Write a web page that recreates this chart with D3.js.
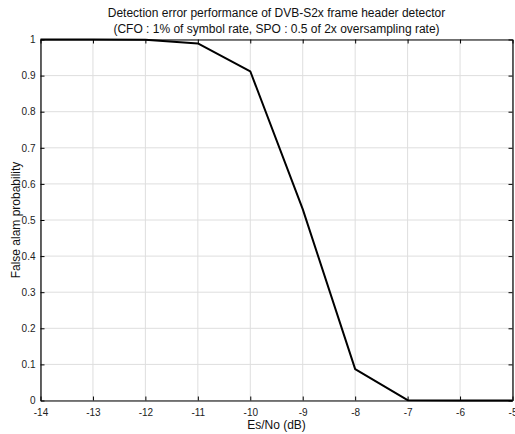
<!DOCTYPE html>
<html>
<head>
<meta charset="utf-8">
<script src="https://cdn.jsdelivr.net/npm/d3@7.9.0/dist/d3.min.js"></script>
<style>
  html, body { margin: 0; padding: 0; background: #fff; }
  svg { display: block; font-family: "Liberation Sans", Arial, sans-serif; }
</style>
</head>
<body>
<svg id="chart" width="515" height="434"></svg>
<script>
const esNo = [-14, -13, -12, -11, -10, -9, -8, -7, -6, -5];
const falseAlarm = [1, 1, 0.999, 0.989, 0.912, 0.53, 0.087, 0.001, 0, 0];
const xTicks = [-14, -13, -12, -11, -10, -9, -8, -7, -6, -5];
const yTicks = [0, 0.1, 0.2, 0.3, 0.4, 0.5, 0.6, 0.7, 0.8, 0.9, 1];
const titleLines = [
  'Detection error performance of DVB-S2x frame header detector',
  '(CFO : 1% of symbol rate, SPO : 0.5 of 2x oversampling rate)'
];

const margin = { top: 39.5, right: 2.5, bottom: 33.5, left: 40.5 };
const width = 515, height = 434;
const svg = d3.select('#chart');

const x = d3.scaleLinear().domain([-14, -5]).range([margin.left, width - margin.right]);
const y = d3.scaleLinear().domain([0, 1]).range([height - margin.bottom, margin.top]);

// grid
svg.append('g')
  .selectAll('line')
  .data(xTicks)
  .join('line')
  .attr('x1', d => x(d)).attr('x2', d => x(d))
  .attr('y1', y(0)).attr('y2', y(1))
  .attr('stroke', '#dedede').attr('stroke-width', 1);

svg.append('g')
  .selectAll('line')
  .data(yTicks)
  .join('line')
  .attr('x1', x(-14)).attr('x2', x(-5))
  .attr('y1', d => y(d)).attr('y2', d => y(d))
  .attr('stroke', '#dedede').attr('stroke-width', 1);

// axes, ticks pointing inward (matlab-ish box)
const tickFmt = d => String(+d.toFixed(1));
const xAxis = svg.append('g')
  .attr('transform', `translate(0,${y(0)})`)
  .call(d3.axisBottom(x).tickValues(xTicks).tickSizeInner(-4).tickSizeOuter(0).tickPadding(8).tickFormat(tickFmt));
const yAxis = svg.append('g')
  .attr('transform', `translate(${x(-14)},0)`)
  .call(d3.axisLeft(y).tickValues(yTicks).tickSizeInner(-4).tickSizeOuter(0).tickPadding(5).tickFormat(tickFmt));
const xTop = svg.append('g')
  .attr('transform', `translate(0,${y(1)})`)
  .call(d3.axisTop(x).tickValues(xTicks).tickSizeInner(-4).tickSizeOuter(0).tickFormat(''));
const yRight = svg.append('g')
  .attr('transform', `translate(${x(-5)},0)`)
  .call(d3.axisRight(y).tickValues(yTicks).tickSizeInner(-4).tickSizeOuter(0).tickFormat(''));

[xAxis, yAxis, xTop, yRight].forEach(g => {
  g.select('.domain').attr('stroke', '#000').attr('stroke-width', 1.2);
  g.selectAll('.tick line').attr('stroke', '#000');
  g.selectAll('.tick text').attr('font-size', 10).attr('fill', '#222')
    .attr('font-family', '"Liberation Sans", Arial, sans-serif');
});

// data line
const line = d3.line().x((d, i) => x(esNo[i])).y(d => y(d));
svg.append('path')
  .datum(falseAlarm)
  .attr('d', line)
  .attr('fill', 'none')
  .attr('stroke', '#000')
  .attr('stroke-width', 2)
  .attr('stroke-linejoin', 'round');

// title
svg.append('g')
  .selectAll('text')
  .data(titleLines)
  .join('text')
  .attr('x', (x(-14) + x(-5)) / 2)
  .attr('y', (d, i) => 17 + i * 15.5)
  .attr('text-anchor', 'middle')
  .attr('font-size', 12)
  .attr('fill', '#111')
  .text(d => d);

// axis labels
svg.append('text')
  .attr('x', (x(-14) + x(-5)) / 2)
  .attr('y', 429)
  .attr('text-anchor', 'middle')
  .attr('font-size', 12)
  .attr('fill', '#111')
  .text('Es/No (dB)');

svg.append('text')
  .attr('transform', `translate(20,${(y(0) + y(1)) / 2}) rotate(-90)`)
  .attr('text-anchor', 'middle')
  .attr('font-size', 12)
  .attr('fill', '#111')
  .text('False alam probability');
</script>
</body>
</html>
